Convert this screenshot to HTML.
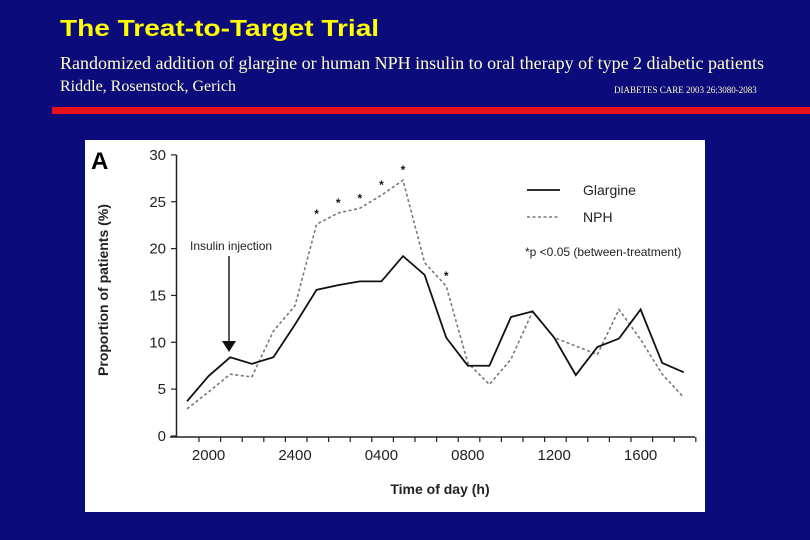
<!DOCTYPE html>
<html><head><meta charset="utf-8"><style>
body{margin:0;width:810px;height:540px;background:#0b0b7c;overflow:hidden;position:relative;font-family:"Liberation Sans",Arial,sans-serif}
.t{position:absolute;white-space:nowrap}
</style></head><body>
<div class="t" style="left:60px;top:15px;font-size:23px;font-weight:bold;color:#ffff00;transform:scaleX(1.22);transform-origin:left top">The Treat-to-Target Trial</div>
<div class="t" style="left:60px;top:53px;font-family:'Liberation Serif',serif;font-size:18px;color:#ffffc8">Randomized addition of glargine or human NPH insulin to oral therapy of type 2 diabetic patients</div>
<div class="t" style="left:60px;top:78px;font-family:'Liberation Serif',serif;font-size:16px;color:#ffffc8">Riddle, Rosenstock, Gerich</div>
<div class="t" style="left:614px;top:85px;font-family:'Liberation Serif',serif;font-size:9px;color:#ffffc8">DIABETES CARE 2003 26:3080-2083</div>
<div style="position:absolute;left:52px;top:107px;width:758px;height:7px;background:#e8101a"></div>
<svg id="chart" width="810" height="540" style="position:absolute;left:0;top:0" font-family="Liberation Sans, Arial, sans-serif"></svg>
<script>
const hours=["1900","2000","2100","2200","2300","2400","0100","0200","0300","0400","0500","0600","0700","0800","0900","1000","1100","1200","1300","1400","1500","1600","1700","1800"];
const glargine=[3.7,6.4,8.4,7.7,8.4,11.9,15.6,16.1,16.5,16.5,19.2,17.2,10.5,7.5,7.5,12.7,13.3,10.5,6.5,9.5,10.4,13.5,7.8,6.8];
const nph=[2.9,4.7,6.6,6.3,11.2,13.9,22.6,23.8,24.3,25.7,27.3,18.5,16.0,7.8,5.5,8.2,13.3,10.5,9.6,8.7,13.5,10.3,6.6,4.1];
const starIdx=[6,7,8,9,10,12];
const yTicks=[0,5,10,15,20,25,30];
const xLabels=["2000","2400","0400","0800","1200","1600"];
const xLabelIdx=[1,5,9,13,17,21];
const svg=document.getElementById('chart');
const NS='http://www.w3.org/2000/svg';
function X(i){return 187+i*21.6;}
function Y(v){return 436-v*9.37;}
function mk(t,a,txt){const e=document.createElementNS(NS,t);for(const k in a)e.setAttribute(k,a[k]);if(txt!==undefined)e.textContent=txt;svg.appendChild(e);return e;}
let e=mk('rect',{x:85,y:140,width:620,height:372,fill:'#fff'});


e=mk('text',{x:91,y:169,'font-size':24,'font-weight':'bold',fill:'#000'},'A');


e=mk('line',{x1:176.5,y1:155,x2:176.5,y2:437,stroke:'#222','stroke-width':1.5});


e=mk('line',{x1:170,y1:437,x2:695,y2:437,stroke:'#222','stroke-width':1.5});


yTicks.forEach(v=>{
 e=mk('line',{x1:171,y1:Y(v),x2:176.5,y2:Y(v),stroke:'#222','stroke-width':1.2});
 
 
 e=mk('text',{x:166,y:Y(v)+5,'font-size':15,'text-anchor':'end',fill:'#222'},v);
 
 
});
for(let i=0;i<24;i++){
 e=mk('line',{x1:X(i)+12,y1:437,x2:X(i)+12,y2:442,stroke:'#222','stroke-width':1.2});
 
 
}
xLabels.forEach((l,k)=>{
 e=mk('text',{x:X(xLabelIdx[k]),y:460,'font-size':15,'text-anchor':'middle',fill:'#222'},l);
 
 
});
e=mk('text',{x:440,y:494,'font-size':14,'font-weight':'bold','text-anchor':'middle',fill:'#222'},'Time of day (h)');


e=mk('text',{x:108,y:290,'font-size':14,'font-weight':'bold','text-anchor':'middle',fill:'#222',transform:'rotate(-90 108 290)'},'Proportion of patients (%)');


e=mk('polyline',{points:nph.map((v,i)=>X(i)+','+Y(v)).join(' '),fill:'none',stroke:'#777','stroke-width':1.6,'stroke-dasharray':'3,2.5'});


e=mk('polyline',{points:glargine.map((v,i)=>X(i)+','+Y(v)).join(' '),fill:'none',stroke:'#111','stroke-width':1.8});


starIdx.forEach(i=>{
 e=mk('text',{x:X(i),y:Y(nph[i])-6,'font-size':12,'font-weight':'bold','text-anchor':'middle',fill:'#111'},'*');
 
 
});
e=mk('text',{x:190,y:250,'font-size':12,fill:'#222'},'Insulin  injection');


e=mk('line',{x1:229,y1:256,x2:229,y2:342,stroke:'#111','stroke-width':1.4});


e=mk('polygon',{points:'222,341 236,341 229,352',fill:'#111'});


e=mk('line',{x1:527,y1:190,x2:560,y2:190,stroke:'#111','stroke-width':1.8});


e=mk('text',{x:583,y:195,'font-size':14,fill:'#222'},'Glargine');


e=mk('line',{x1:527,y1:217,x2:560,y2:217,stroke:'#777','stroke-width':1.6,'stroke-dasharray':'3,2.5'});


e=mk('text',{x:583,y:222,'font-size':14,fill:'#222'},'NPH');


e=mk('text',{x:525,y:256,'font-size':12,fill:'#222'},'*p  <0.05  (between-treatment)');


</script>
</body></html>
